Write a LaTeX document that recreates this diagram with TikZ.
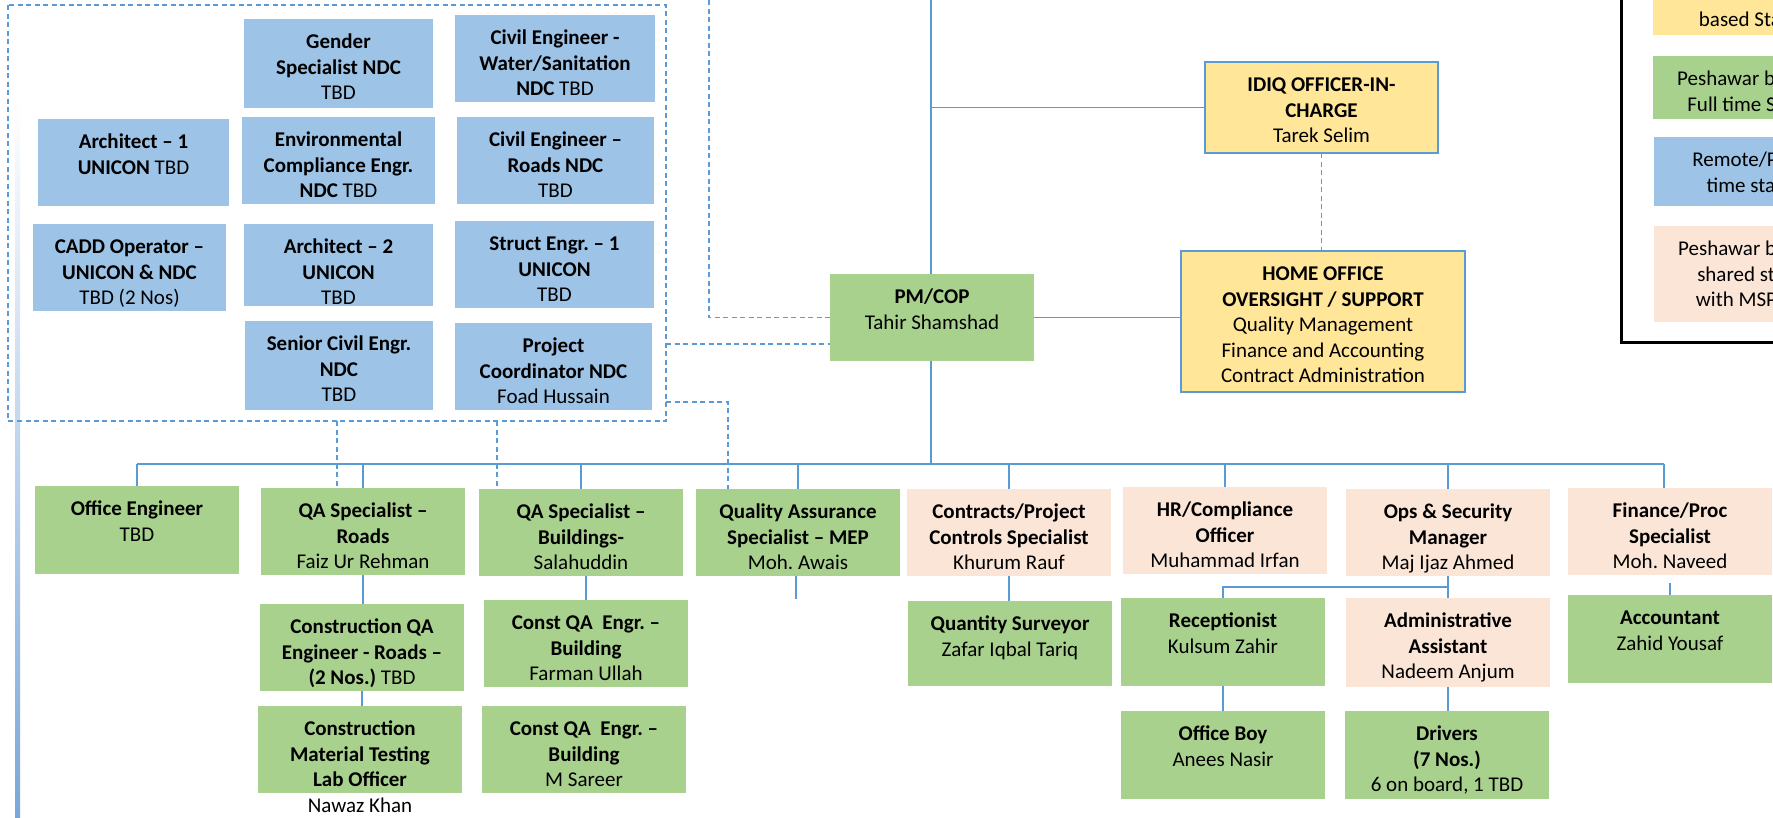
\documentclass[tikz,border=0pt]{standalone}
\usepackage{fontspec}
\setmainfont{Carlito}
\frenchspacing
\definecolor{bxblue}{RGB}{157,195,230}
\definecolor{bxgreen}{RGB}{169,209,142}
\definecolor{bxpeach}{RGB}{251,229,214}
\definecolor{bxyellow}{RGB}{255,230,153}
\definecolor{ln}{RGB}{91,155,213}
\definecolor{grad}{RGB}{122,167,218}
\newcommand\orgtext[3]{\parbox[c][#2pt][t]{#1pt}{\fontsize{21}{25.6}\selectfont\frenchspacing\centering\rule{0pt}{29.5pt}#3\par}}
\newcommand\ob[7]{\node[ob,#6] (#1) at (#2,#3) {\orgtext{#4}{#5}{#7}};}
\tikzset{
  ob/.style={anchor=north west, inner sep=0pt, outer sep=0pt},
  remote/.style={fill=bxblue},
  full/.style={fill=bxgreen},
  shared/.style={fill=bxpeach},
  home/.style={fill=bxyellow},
  bordered/.style={draw=ln, line width=2.5pt},
  conn/.style={draw=ln, line width=1.5pt},
  dconn/.style={draw=ln, line width=1.5pt, dash pattern=on 5pt off 3.5pt},
}
\begin{document}
\begin{tikzpicture}[x=1pt,y=-1pt]
\useasboundingbox (0,0) rectangle (1773,817);
\clip (0,0) rectangle (1773,817);
\fill[white] (0,0) rectangle (1773,817);

% gradient bar at left
\shade[top color=white, bottom color=grad] (15,100) rectangle (20,817);

% dashed group of remote staff
\draw[dconn] (8,5) rectangle (666,421);

% remote / part-time staff
\ob{gender}{244}{19}{189}{89}{remote}{\textbf{Gender}\\\textbf{Specialist NDC}\\TBD}
\ob{civwater}{455}{15}{200}{87}{remote}{\textbf{Civil Engineer -}\\\textbf{Water/Sanitation}\\\textbf{NDC} TBD}
\ob{arch1}{38}{119}{191}{87}{remote}{\textbf{Architect – 1}\\\textbf{UNICON} TBD}
\ob{env}{242}{117}{193}{87}{remote}{\textbf{Environmental}\\\textbf{Compliance Engr.}\\\textbf{NDC} TBD}
\ob{civroads}{457}{117}{197}{87}{remote}{\textbf{Civil Engineer –}\\\textbf{Roads NDC}\\TBD}
\ob{cadd}{33}{224}{193}{87}{remote}{\textbf{CADD Operator –}\\\textbf{UNICON \& NDC}\\TBD (2 Nos)}
\ob{arch2}{244}{224}{189}{82}{remote}{\textbf{Architect – 2}\\\textbf{UNICON}\\TBD}
\ob{struct}{455}{221}{199}{87}{remote}{\textbf{Struct Engr. – 1}\\\textbf{UNICON}\\TBD}
\ob{senior}{245}{321}{188}{89}{remote}{\textbf{Senior Civil Engr.}\\\textbf{NDC}\\TBD}
\ob{projcoord}{455}{323}{197}{87}{remote}{\textbf{Project}\\\textbf{Coordinator NDC}\\Foad Hussain}

% management
\ob{pm}{830}{274}{204}{87}{full}{\textbf{PM/COP}\\Tahir Shamshad}
\ob{idiq}{1205}{62}{233}{91}{home,bordered}{\textbf{IDIQ OFFICER-IN-}\\\textbf{CHARGE}\\Tarek Selim}
\ob{homeoff}{1181}{251}{284}{141}{home,bordered}{\textbf{HOME OFFICE}\\\textbf{OVERSIGHT / SUPPORT}\\Quality Management\\Finance and Accounting\\Contract Administration}

% second row
\ob{offeng}{35}{486}{204}{88}{full}{\textbf{Office Engineer}\\TBD}
\ob{qaroads}{261}{488}{204}{87}{full}{\textbf{QA Specialist –}\\\textbf{Roads}\\Faiz Ur Rehman}
\ob{qabuild}{479}{489}{204}{87}{full}{\textbf{QA Specialist –}\\\textbf{Buildings-}\\Salahuddin}
\ob{qamep}{696}{489}{204}{87}{full}{\textbf{Quality Assurance}\\\textbf{Specialist – MEP}\\Moh. Awais}
\ob{contracts}{907}{489}{204}{87}{shared}{\textbf{Contracts/Project}\\\textbf{Controls Specialist}\\Khurum Rauf}
\ob{hr}{1123}{487}{204}{87}{shared}{\textbf{HR/Compliance}\\\textbf{Officer}\\Muhammad Irfan}
\ob{ops}{1346}{489}{204}{87}{shared}{\textbf{Ops \& Security}\\\textbf{Manager}\\Maj Ijaz Ahmed}
\ob{fin}{1568}{488}{204}{87}{shared}{\textbf{Finance/Proc}\\\textbf{Specialist}\\Moh. Naveed}

% third row
\ob{cqaroads}{260}{604}{204}{87}{full}{\textbf{Construction QA}\\\textbf{Engineer - Roads –}\\\textbf{(2 Nos.)} TBD}
\ob{cqab1}{484}{600}{204}{87}{full}{\textbf{Const QA\ \ Engr. –}\\\textbf{Building}\\Farman Ullah}
\ob{qs}{908}{601}{204}{85}{full}{\textbf{Quantity Surveyor}\\Zafar Iqbal Tariq}
\ob{recep}{1121}{598}{204}{88}{full}{\textbf{Receptionist}\\Kulsum Zahir}
\ob{admin}{1346}{598}{204}{89}{shared}{\textbf{Administrative}\\\textbf{Assistant}\\Nadeem Anjum}
\ob{acct}{1568}{595}{204}{88}{full}{\textbf{Accountant}\\Zahid Yousaf}

% fourth row
\ob{cmt}{258}{706}{204}{87}{full}{\textbf{Construction}\\\textbf{Material Testing}\\\textbf{Lab Officer}\\Nawaz Khan}
\ob{cqab2}{482}{706}{204}{87}{full}{\textbf{Const QA\ \ Engr. –}\\\textbf{Building}\\M Sareer}
\ob{offboy}{1121}{711}{204}{88}{full}{\textbf{Office Boy}\\Anees Nasir}
\ob{drivers}{1345}{711}{204}{88}{full}{\textbf{Drivers}\\\textbf{(7 Nos.)}\\6 on board, 1 TBD}

% solid connectors
\coordinate (top1) at (931,0);
\coordinate (busL) at (137,464);
\coordinate (busR) at (1664,464);
\draw[conn] (top1) -- (top1 |- pm.north);
\draw[conn] (top1 |- idiq.west) -- (idiq.west);
\draw[conn] (pm.east) -- (pm.east -| homeoff.west);
\draw[conn] (top1 |- pm.south) -- (top1 |- busL);
\draw[conn] (busL) -- (busR);
\draw[conn] (offeng.north |- busL) -- (offeng.north);
\draw[conn] (qaroads.north |- busL) -- (qaroads.north);
\draw[conn] (qabuild.north |- busL) -- (qabuild.north);
\draw[conn] (qamep.north |- busL) -- (qamep.north);
\draw[conn] (contracts.north |- busL) -- (contracts.north);
\draw[conn] (hr.north |- busL) -- (hr.north);
\draw[conn] (ops.north |- busL) -- (ops.north);
\draw[conn] (busR) -- (busR |- fin.north);
\draw[conn] (qaroads.south) -- (qaroads.south |- cqaroads.north);
\draw[conn] (cqaroads.south) -- (cqaroads.south |- cmt.north);
\draw[conn] (cqab1.north |- qabuild.south) -- (cqab1.north);
\coordinate (mepstub) at (796,599);
\draw[conn] (mepstub |- qamep.south) -- (mepstub);
\draw[conn] (contracts.south) -- (contracts.south |- qs.north);
\coordinate (opsj) at (1448,587);
\draw[conn] (ops.south) -- (ops.south |- admin.north);
\draw[conn] (ops.south |- opsj) -| (recep.north);
\draw[conn] (recep.south) -- (recep.south |- offboy.north);
\draw[conn] (admin.south) -- (admin.south |- drivers.north);
\draw[conn] (acct.north) -- ++(0,-12);

% dashed connectors
\coordinate (top2) at (709,0);
\coordinate (g1) at (666,344);
\coordinate (g2) at (666,402);
\coordinate (gb1) at (337,421);
\coordinate (gb2) at (497,421);
\draw[dconn] (top2) |- (pm.west);
\draw[dconn] (g1) -- (g1 -| pm.west);
\draw[dconn] (g2) -| ([xshift=32pt]qamep.north west);
\draw[dconn] (gb1) -- (gb1 |- qaroads.north);
\draw[dconn] (gb2) -- (gb2 |- qabuild.north);
\draw[dconn] (idiq.south) -- (idiq.south |- homeoff.north);

% legend
\draw[line width=3pt, black] (1621,-20) rectangle (1871,342);
\ob{lgy}{1653}{-29}{186}{64}{home}{\mbox{}\\based Staff}
\ob{lgg}{1653}{56}{186}{63}{full}{Peshawar based\\Full time Staff}
\ob{lgb}{1654}{137}{186}{69}{remote}{Remote/Part\\time staff}
\ob{lgp}{1654}{226}{186}{96}{shared}{Peshawar based\\shared staff\\with MSP\hspace*{21pt}}
\end{tikzpicture}
\end{document}
